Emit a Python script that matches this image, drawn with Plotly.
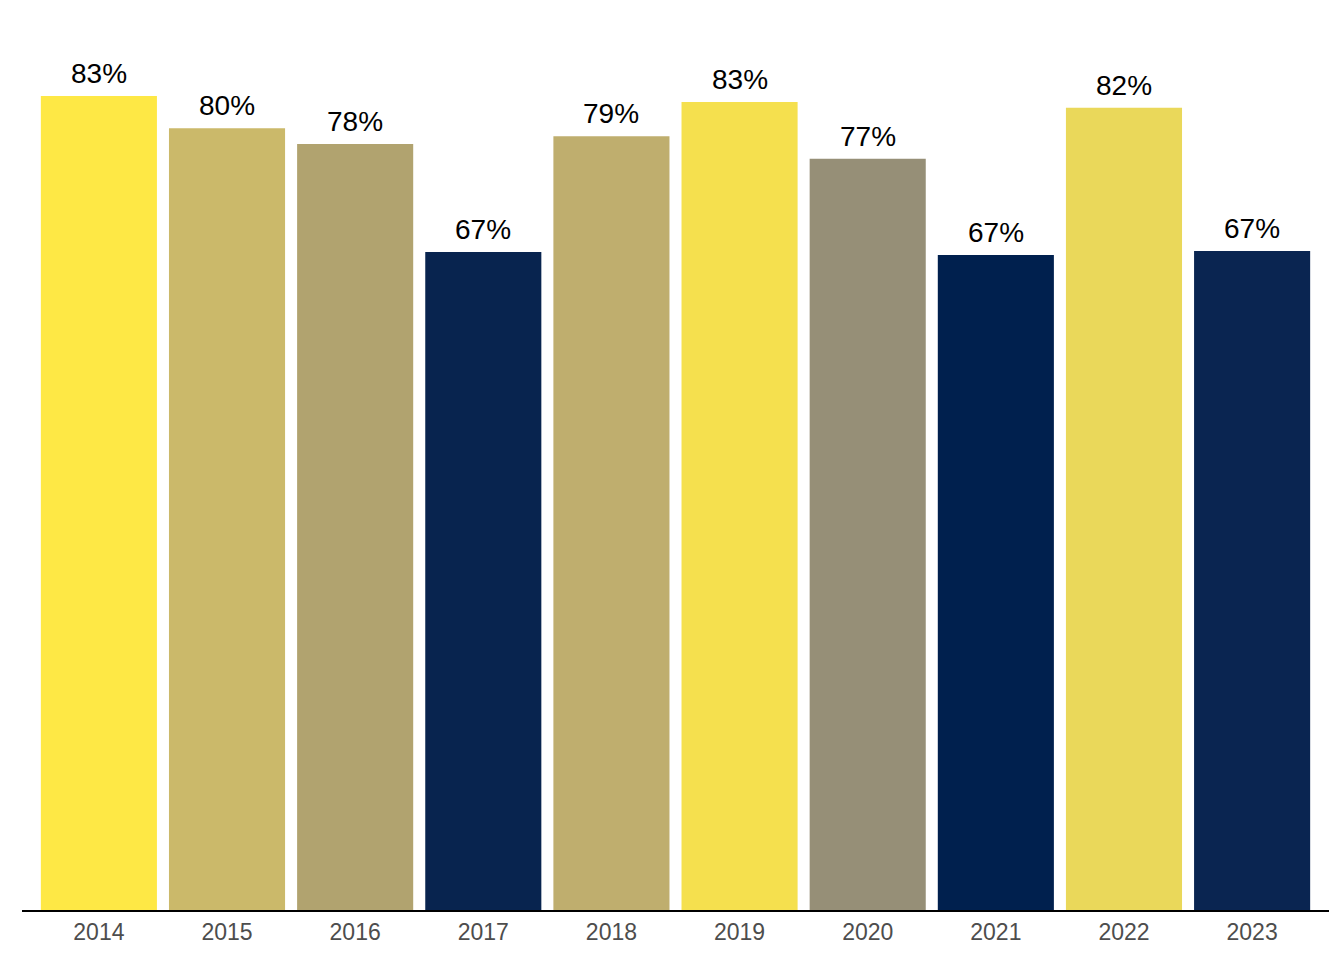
import plotly.graph_objects as go

years = ["2014", "2015", "2016", "2017", "2018", "2019", "2020", "2021", "2022", "2023"]
values = [83.0, 79.7, 78.1, 67.1, 78.9, 82.4, 76.6, 66.8, 81.8, 67.2]
labels = ["83%", "80%", "78%", "67%", "79%", "83%", "77%", "67%", "82%", "67%"]
colors = ["#FEE845", "#CBB96A", "#B1A36F", "#08244F", "#BFAE6E",
          "#F5E04E", "#968F77", "#00204E", "#EAD85A", "#0A2551"]

fig = go.Figure()
fig.add_trace(go.Bar(x=years, y=values, marker=dict(color=colors, line=dict(width=0)),
                     hoverinfo="skip"))

for i, (v, lab) in enumerate(zip(values, labels)):
    fig.add_annotation(x=i, y=v, xref="x", yref="y", text=lab, showarrow=False,
                       yanchor="bottom", yshift=5,
                       font=dict(family="Liberation Sans, Arial", size=28, color="black"))

fig.update_layout(
    width=1336, height=952,
    margin=dict(l=14, r=15, t=12, b=50),
    plot_bgcolor="white", paper_bgcolor="white",
    bargap=0.094, showlegend=False,
    font=dict(family="Liberation Sans, Arial"),
)
fig.update_xaxes(type="category", range=[-0.6, 9.6], showline=True, linecolor="black",
                 linewidth=2, ticks="", showgrid=False,
                 tickfont=dict(family="Liberation Sans, Arial", size=23, color="#4D4D4D"))
fig.update_yaxes(range=[0, 90.75], showgrid=False, zeroline=False, showticklabels=False,
                 showline=False, ticks="")

fig.write_html("out.html")
